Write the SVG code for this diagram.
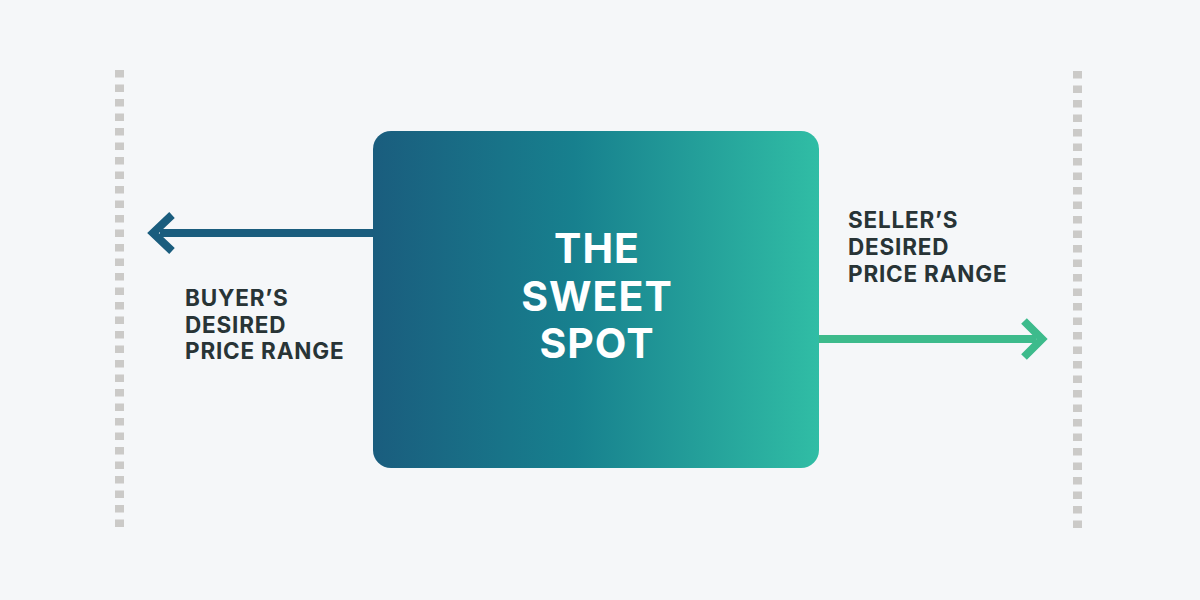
<svg xmlns="http://www.w3.org/2000/svg" width="1200" height="600" viewBox="0 0 1200 600">
<defs>
<linearGradient id="g" x1="0" y1="0" x2="1" y2="0">
<stop offset="0" stop-color="#1a5d7e"/>
<stop offset="0.45" stop-color="#17808e"/>
<stop offset="1" stop-color="#30bda5"/>
</linearGradient>
<style>
.lbl{font-family:"Inter","Liberation Sans",sans-serif;font-weight:700;font-size:22.5px;fill:#283436;letter-spacing:0.8px}
.big{font-family:"Inter","Liberation Sans",sans-serif;font-weight:700;font-size:41px;fill:#ffffff;text-anchor:middle;letter-spacing:1px}
.dash{stroke:#cbcac8;stroke-width:9;stroke-dasharray:7.5 7;fill:none}
</style>
</defs>
<rect width="1200" height="600" fill="#f5f7f9"/>
<g id="bounds">
<line class="dash" x1="119.5" y1="70" x2="119.5" y2="531"/>
<line class="dash" x1="1077.5" y1="71" x2="1077.5" y2="532"/>
</g>
<g id="connectors">
<line x1="160" y1="233" x2="374" y2="233" stroke="#1a5d7e" stroke-width="8"/>
<polyline points="172,215 153,233 172,251" fill="none" stroke="#1a5d7e" stroke-width="8"/>
<line x1="818" y1="339" x2="1036" y2="339" stroke="#3dbb8c" stroke-width="8"/>
<polyline points="1024,321 1042,339 1024,357" fill="none" stroke="#3dbb8c" stroke-width="8"/>
</g>
<g id="sweet-spot">
<rect x="373" y="131" width="446" height="337" rx="18" fill="url(#g)"/>
<text class="big" x="597" y="263">THE</text>
<text class="big" x="597" y="311">SWEET</text>
<text class="big" x="597" y="358">SPOT</text>
</g>
<g id="buyer">
<text class="lbl" x="185" y="306">BUYER’S</text>
<text class="lbl" x="185" y="333">DESIRED</text>
<text class="lbl" x="185" y="359">PRICE RANGE</text>
</g>
<g id="seller">
<text class="lbl" x="848" y="228">SELLER’S</text>
<text class="lbl" x="848" y="255">DESIRED</text>
<text class="lbl" x="848" y="282">PRICE RANGE</text>
</g>
</svg>
